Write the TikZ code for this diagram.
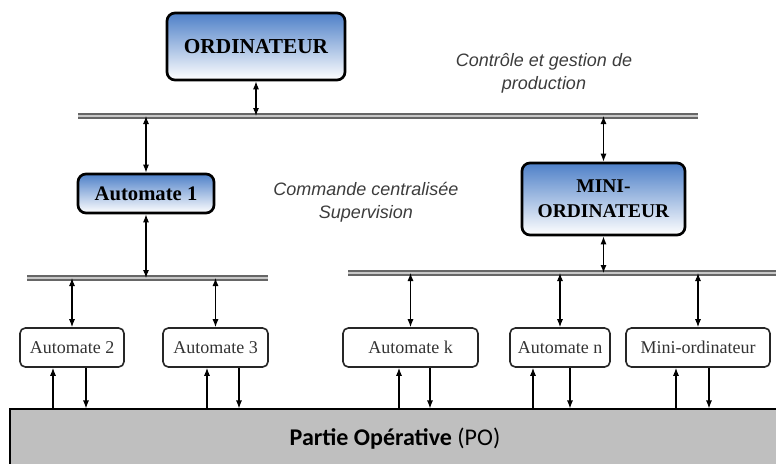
\documentclass[tikz,border=0pt]{standalone}
\usepackage{fontspec}
\setmainfont{Liberation Serif}
\newfontfamily\annfont{Liberation Sans}
\newfontfamily\pofont{Carlito}
\usetikzlibrary{arrows.meta}

\definecolor{boxblue}{RGB}{78,128,200}
\definecolor{anngray}{RGB}{60,60,60}

\begin{document}
\begin{tikzpicture}[
        x=0.75pt, y=-0.75pt,
        mainbox/.style={rectangle, draw=black, line width=2pt, rounded corners=6pt, top color=boxblue, bottom color=white, inner sep=0pt, text centered, font=\bfseries},
        smallbox/.style={rectangle, draw=black!85, line width=1.2pt, rounded corners=4pt, fill=white, inner sep=0pt, minimum height=29.25pt, text=black!80, font=\fontsize{13.5}{15}\selectfont},
        bus/.style={draw=black!60, line width=1.2pt, double=black!22, double distance=1.8pt},
        link/.style={{Latex[length=6pt,width=4.5pt]}-{Latex[length=6pt,width=4.5pt]}, line width=0.8pt},
        up/.style={-{Latex[length=6pt,width=4.5pt]}, line width=0.8pt},
        note/.style={font=\annfont\itshape\fontsize{13.5}{17}\selectfont, text=anngray, align=center}
    ]
        \useasboundingbox (0,0) rectangle (776,464);

        % Partie operative
        \node[rectangle, draw=black, line width=0.8pt, fill=black!25, minimum width=577.5pt, minimum height=44.25pt, inner sep=0pt, font=\pofont\fontsize{18}{20}\selectfont] (po) at (395,438.5) {\textbf{Partie Op\'erative} (PO)};

        % buses
        \coordinate (bus1w) at (78,116);
        \coordinate (bus1e) at (698,116);
        \coordinate (bus2w) at (27,278);
        \coordinate (bus2e) at (268,278);
        \coordinate (bus3w) at (348,273);
        \coordinate (bus3e) at (790,273);
        \draw[bus] (bus1w) -- (bus1e);
        \draw[bus] (bus2w) -- (bus2e);
        \draw[bus] (bus3w) -- (bus3e);

        % upper level
        \node[mainbox, minimum width=133.5pt, minimum height=50.25pt, font=\bfseries\fontsize{16}{18}\selectfont] (ord) at (256,46.5) {ORDINATEUR};
        \node[mainbox, minimum width=102pt, minimum height=29.25pt, font=\bfseries\fontsize{15.5}{18}\selectfont] (auto1) at (146,193.5) {Automate 1};
        \node[mainbox, minimum width=122.25pt, minimum height=54pt, align=center, font=\bfseries\fontsize{14.6}{18.75}\selectfont] (mini) at (603.5,199) {MINI-\\ORDINATEUR};

        \node[note] (ctrl) at (544,73) {Contr\^ole et gestion de\\production};
        \node[note] (cmd) at (366,202) {Commande centralis\'ee\\Supervision};

        \draw[link] (ord.south) -- (ord.south |- bus1w);
        \draw[link] (auto1.north |- bus1w) -- (auto1.north);
        \draw[link] (mini.north |- bus1w) -- (mini.north);
        \draw[link] (auto1.south) -- (auto1.south |- bus2w);
        \draw[link] (mini.south) -- (mini.south |- bus3w);

        % lower level
        \node[smallbox, minimum width=78pt] (auto2) at (72,347.5) {Automate 2};
        \node[smallbox, minimum width=78.75pt] (auto3) at (215.5,347.5) {Automate 3};
        \node[smallbox, minimum width=101.25pt] (autok) at (410.5,347.5) {Automate k};
        \node[smallbox, minimum width=75pt] (auton) at (560,347.5) {Automate n};
        \node[smallbox, minimum width=108pt] (minio) at (698,347.5) {Mini-ordinateur};

        \draw[link] (auto2.north |- bus2w) -- (auto2.north);
        \draw[link] (auto3.north |- bus2w) -- (auto3.north);
        \draw[link] (autok.north |- bus3w) -- (autok.north);
        \draw[link] (auton.north |- bus3w) -- (auton.north);
        \draw[link] (minio.north |- bus3w) -- (minio.north);

        % links to the PO
        \draw[up] (po.north -| 53,0) -- (auto2.south -| 53,0);
        \draw[up] (auto2.south -| 86,0) -- (po.north -| 86,0);
        \draw[up] (po.north -| 207,0) -- (auto3.south -| 207,0);
        \draw[up] (auto3.south -| 239,0) -- (po.north -| 239,0);
        \draw[up] (po.north -| 399,0) -- (autok.south -| 399,0);
        \draw[up] (autok.south -| 430,0) -- (po.north -| 430,0);
        \draw[up] (po.north -| 533,0) -- (auton.south -| 533,0);
        \draw[up] (auton.south -| 570,0) -- (po.north -| 570,0);
        \draw[up] (po.north -| 676,0) -- (minio.south -| 676,0);
        \draw[up] (minio.south -| 709,0) -- (po.north -| 709,0);
    \end{tikzpicture}
\end{document}
